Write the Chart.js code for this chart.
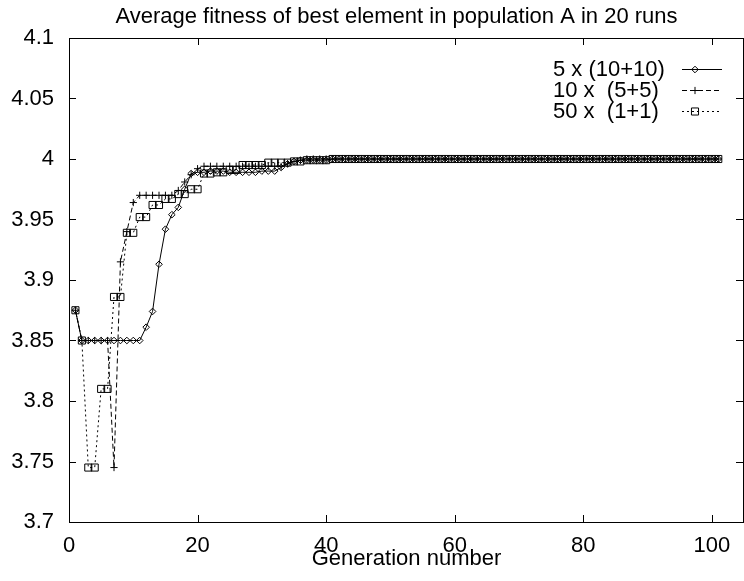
<!DOCTYPE html>
<html>
<head>
<meta charset="utf-8">
<script src="https://cdn.jsdelivr.net/npm/chart.js@4/dist/chart.umd.min.js"></script>
<style>
html,body{margin:0;padding:0;background:#fff;}
#wrap{width:744px;height:581px;}
</style>
</head>
<body>
<div id="wrap"><canvas id="c" width="744" height="581"></canvas></div>
<script>
const titleText = 'Average fitness of best element in population A in 20 runs';
const xAxisTitle = 'Generation number';
const seriesNames = ['5 x (10+10)', '10 x  (5+5)', '50 x  (1+1)'];
const xTickValues = [0, 20, 40, 60, 80, 100];
const xTickLabels = ['0', '20', '40', '60', '80', '100'];
const yTickValues = [3.7, 3.75, 3.8, 3.85, 3.9, 3.95, 4.0, 4.05, 4.1];
const yTickLabels = ['3.7', '3.75', '3.8', '3.85', '3.9', '3.95', '4', '4.05', '4.1'];

// series values, generations 1..101
const fit5x10 = [
  3.875, 3.85, 3.85, 3.85, 3.85, 3.85, 3.85, 3.85, 3.85, 3.85,
  3.85, 3.861, 3.874, 3.913, 3.942, 3.954, 3.960, 3.975, 3.988, 3.989,
  3.989, 3.990, 3.990, 3.990, 3.989, 3.989, 3.989, 3.989, 3.989, 3.990,
  3.990, 3.990, 3.993, 3.996, 3.998, 3.999, 3.999, 3.999, 3.999, 3.999,
  4, 4, 4, 4, 4, 4, 4, 4, 4, 4,
  4, 4, 4, 4, 4, 4, 4, 4, 4, 4,
  4, 4, 4, 4, 4, 4, 4, 4, 4, 4,
  4, 4, 4, 4, 4, 4, 4, 4, 4, 4,
  4, 4, 4, 4, 4, 4, 4, 4, 4, 4,
  4, 4, 4, 4, 4, 4, 4, 4, 4, 4,
  4
];
const fit10x5 = [
  3.875, 3.85, 3.85, 3.85, 3.85, 3.85, 3.745, 3.915, 3.940, 3.964,
  3.970, 3.970, 3.970, 3.970, 3.970, 3.970, 3.974, 3.981, 3.987, 3.992,
  3.994, 3.994, 3.994, 3.994, 3.994, 3.994, 3.994, 3.994, 3.994, 3.994,
  3.994, 3.994, 3.994, 3.996, 3.998, 3.999, 4, 4, 4, 4,
  4, 4, 4, 4, 4, 4, 4, 4, 4, 4,
  4, 4, 4, 4, 4, 4, 4, 4, 4, 4,
  4, 4, 4, 4, 4, 4, 4, 4, 4, 4,
  4, 4, 4, 4, 4, 4, 4, 4, 4, 4,
  4, 4, 4, 4, 4, 4, 4, 4, 4, 4,
  4, 4, 4, 4, 4, 4, 4, 4, 4, 4,
  4
];
const fit50x1 = [
  3.875, 3.85, 3.745, 3.745, 3.81, 3.81, 3.886, 3.886, 3.939, 3.939,
  3.952, 3.952, 3.962, 3.962, 3.967, 3.967, 3.971, 3.971, 3.975, 3.975,
  3.988, 3.988, 3.989, 3.989, 3.991, 3.991, 3.995, 3.995, 3.995, 3.995,
  3.997, 3.997, 3.997, 3.997, 3.998, 3.998, 3.999, 3.999, 3.999, 3.999,
  4, 4, 4, 4, 4, 4, 4, 4, 4, 4,
  4, 4, 4, 4, 4, 4, 4, 4, 4, 4,
  4, 4, 4, 4, 4, 4, 4, 4, 4, 4,
  4, 4, 4, 4, 4, 4, 4, 4, 4, 4,
  4, 4, 4, 4, 4, 4, 4, 4, 4, 4,
  4, 4, 4, 4, 4, 4, 4, 4, 4, 4,
  4
];

const FONT = 'Liberation Sans, Arial, Helvetica, sans-serif';
const FS = 22;
const toPoints = vals => vals.map((v, i) => ({ x: i + 1, y: v }));

const styles = [
  { pointStyle: 'rectRot', radius: 3.3, dash: [] },
  { pointStyle: 'cross', radius: 3.6, dash: [5, 3] },
  { pointStyle: 'rect', radius: 5, dash: [2, 3] }
];
const seriesValues = [fit5x10, fit10x5, fit50x1];

const datasets = seriesValues.map((vals, k) => ({
  label: seriesNames[k],
  data: toPoints(vals),
  borderColor: '#000',
  borderWidth: 1,
  borderDash: styles[k].dash,
  backgroundColor: 'rgba(0,0,0,0)',
  pointStyle: styles[k].pointStyle,
  pointRadius: styles[k].radius,
  pointBorderColor: '#000',
  pointBackgroundColor: 'rgba(0,0,0,0)',
  pointBorderWidth: 1,
  fill: false,
  tension: 0
}));

// title sits slightly left of the plot-area centre, as in the original
const titleShiftPlugin = {
  id: 'titleShift',
  afterLayout(chart) {
    const tb = chart.titleBlock;
    if (tb) { tb.left -= 20; tb.width = tb.right - tb.left; }
  }
};

// frame with inward ticks on all four sides
const framePlugin = {
  id: 'frame',
  afterDraw(chart) {
    const { ctx, chartArea: a, scales } = chart;
    const tl = 7;
    ctx.save();
    ctx.strokeStyle = '#000';
    ctx.lineWidth = 1;
    ctx.setLineDash([]);
    ctx.beginPath();
    xTickValues.forEach(v => {
      const px = Math.round(scales.x.getPixelForValue(v)) + 0.5;
      ctx.moveTo(px, a.bottom); ctx.lineTo(px, a.bottom - tl);
      ctx.moveTo(px, a.top); ctx.lineTo(px, a.top + tl);
    });
    yTickValues.forEach(v => {
      const py = Math.round(scales.y.getPixelForValue(v)) + 0.5;
      ctx.moveTo(a.left, py); ctx.lineTo(a.left + tl, py);
      ctx.moveTo(a.right - 1, py); ctx.lineTo(a.right - 1 - tl, py);
    });
    ctx.stroke();
    ctx.strokeRect(Math.round(a.left) + 0.5, Math.round(a.top) + 0.5,
                   Math.round(a.right - a.left) - 1, Math.round(a.bottom - a.top));
    ctx.restore();
  }
};

// gnuplot-style key: text then line sample with marker
const keyPlugin = {
  id: 'gkey',
  afterDraw(chart) {
    const { ctx } = chart;
    const textX = 553, rowY0 = 69, rowH = 21, lineX0 = 682, lineX1 = 722, markX = 695;
    ctx.save();
    ctx.font = FS + 'px ' + FONT;
    ctx.textAlign = 'left';
    ctx.textBaseline = 'middle';
    chart.data.datasets.forEach((ds, k) => {
      const y = rowY0 + k * rowH;
      ctx.fillStyle = '#000';
      ctx.fillText(ds.label, textX, y + 1);
      ctx.strokeStyle = '#000';
      ctx.lineWidth = 1;
      ctx.setLineDash(ds.borderDash || []);
      ctx.beginPath();
      ctx.moveTo(lineX0, Math.round(y) + 0.5);
      ctx.lineTo(lineX1, Math.round(y) + 0.5);
      ctx.stroke();
      ctx.setLineDash([]);
      ctx.fillStyle = 'rgba(0,0,0,0)';
      Chart.helpers.drawPoint(ctx, {
        pointStyle: ds.pointStyle, rotation: 0, radius: ds.pointRadius, borderWidth: 1
      }, markX, Math.round(y) + 0.5);
    });
    ctx.restore();
  }
};

new Chart(document.getElementById('c'), {
  type: 'line',
  data: { datasets },
  options: {
    responsive: false,
    animation: false,
    devicePixelRatio: 1,
    layout: { autoPadding: false, padding: { left: 0, right: 0, top: 0, bottom: 0 } },
    plugins: {
      legend: { display: false },
      tooltip: { enabled: false },
      title: {
        display: true,
        fullSize: false,
        text: titleText,
        color: '#000',
        font: { family: FONT, size: FS, weight: 'normal' },
        padding: { top: 3.5, bottom: 8.1 }
      }
    },
    scales: {
      x: {
        type: 'linear',
        min: 0,
        max: 105,
        afterBuildTicks: s => { s.ticks = xTickValues.map(v => ({ value: v })); },
        afterFit: s => { s.height = 59; s.paddingLeft = 0; s.paddingRight = 0; },
        grid: { display: false, drawTicks: false },
        border: { display: false },
        ticks: {
          color: '#000',
          font: { family: FONT, size: FS },
          padding: 11,
          maxRotation: 0,
          autoSkip: false,
          callback: (v) => xTickLabels[xTickValues.indexOf(v)]
        },
        title: {
          display: true,
          text: xAxisTitle,
          color: '#000',
          font: { family: FONT, size: FS },
          padding: { top: 0, bottom: 9 }
        }
      },
      y: {
        type: 'linear',
        min: 3.7,
        max: 4.1,
        afterBuildTicks: s => { s.ticks = yTickValues.map(v => ({ value: v })); },
        afterFit: s => { s.width = 69; s.paddingTop = 0; s.paddingBottom = 0; },
        grid: { display: false, drawTicks: false },
        border: { display: false },
        ticks: {
          color: '#000',
          font: { family: FONT, size: FS },
          padding: 15,
          autoSkip: false,
          callback: (v) => yTickLabels[yTickValues.findIndex(t => Math.abs(t - v) < 1e-9)]
        }
      }
    }
  },
  plugins: [titleShiftPlugin, framePlugin, keyPlugin]
});
</script>
</body>
</html>
